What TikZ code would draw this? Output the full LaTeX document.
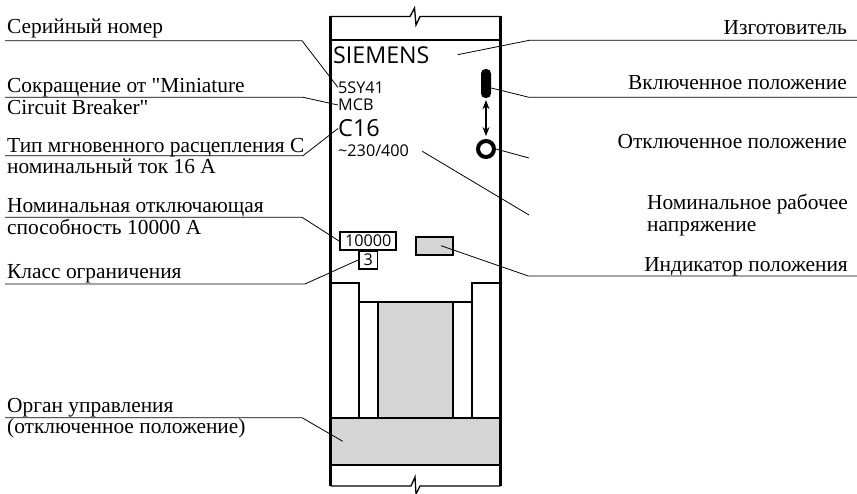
\documentclass[tikz,border=0pt]{standalone}
\usepackage{fontspec}
\newfontfamily\capfont{Liberation Serif}
\newfontfamily\platefont{Open Sans}
\usepackage{tikz}
\usetikzlibrary{arrows.meta,positioning}
\usepackage{xcolor}
\definecolor{bkgray}{RGB}{213,213,213}
\tikzstyle{wall} = [line width=2.1pt, color=black]
\tikzstyle{edge} = [line width=1.3pt, color=black]
\tikzstyle{leader} = [line width=0.8pt, color=black]
\tikzstyle{caption} = [anchor=base west, inner sep=0pt, font=\capfont\fontsize{21.4}{24}\selectfont]
\tikzstyle{captionr} = [anchor=base east, inner sep=0pt, font=\capfont\fontsize{21.4}{24}\selectfont]
\tikzstyle{plate} = [anchor=west, inner sep=0pt, font=\platefont\fontsize{16.2}{18}\selectfont]
\tikzstyle{platebig} = [anchor=west, inner sep=0pt, font=\platefont\fontsize{23.5}{26}\selectfont]
\tikzstyle{platebox} = [rectangle, draw=black, fill=white, line width=1.8pt, inner sep=0pt, font=\platefont\fontsize{16.2}{18}\selectfont]

\begin{document}
\begin{tikzpicture}[x=1pt, y=-1pt]
\useasboundingbox (0,0) rectangle (857,494);

% Grey parts
\fill[bkgray] (377.7,302) rectangle (453,418);
\fill[bkgray] (330.5,418) rectangle (500.5,465);

% Housing
\draw[wall] (330.5,16.5) -- (330.5,486);
\draw[wall] (500.5,16.5) -- (500.5,486);
\draw[wall] (330.5,40) -- (500.5,40);
\draw[wall] (330.5,418) -- (500.5,418);
\draw[wall] (330.5,465) -- (500.5,465);

% Break marks
\draw[edge] (330.5,16.5) -- (410,16.5) -- (414.5,8) -- (416,25) -- (420,16.5) -- (500.5,16.5);
\draw[edge] (330.5,486) -- (411,486) -- (415,477) -- (416,494) -- (420,486) -- (500.5,486);

% Handle
\draw[wall] (330.5,283) -- (359,283) -- (359,418);
\draw[wall] (500.5,283) -- (472,283) -- (472,418);
\draw[wall] (359,302) -- (472,302);
\draw[wall] (377.7,302) -- (377.7,418);
\draw[wall] (453,302) -- (453,418);

% Plate labels
\node[plate, font=\platefont\fontsize{23.2}{26}\selectfont] (maker) at (333,55) {SIEMENS};
\node[plate] (serial) at (338,87.5) {5SY41};
\node[plate] (mcb) at (338,105) {MCB};
\node[platebig] (rating) at (338,128.5) {C16};
\node[plate] (voltage) at (338,151) {\textasciitilde230/400};

% Boxes
\node[platebox, minimum width=56pt, minimum height=18pt] (capacity) at (368.3,241.2) {10000};
\node[platebox, minimum width=18.5pt, minimum height=18pt] (limit) at (368.3,260) {3};
\node[rectangle, draw=black, fill=bkgray, line width=1.8pt, minimum width=37.5pt, minimum height=18.5pt] (indicator) at (434.5,246) {};

% Switch positions
\node[rectangle, rounded corners=4.5pt, fill=black, minimum width=10pt, minimum height=29pt, inner sep=0pt] (on) at (486,83.5) {};
\node[circle, draw=black, line width=4pt, minimum size=16pt, inner sep=0pt] (off) at (486,149) {};
\draw[line width=1.3pt, {Stealth[length=9pt,width=7pt]}-{Stealth[length=9pt,width=7pt]}, shorten <=2pt, shorten >=3pt] (on) -- (off);

% Left captions
\node[caption] (tserial) at (7,34) {Серийный номер};
\node[caption] (tmcb) at (7,93) {Сокращение от "Miniature};
\node[caption] (tmcbb) at (7,115) {Circuit Breaker"};
\node[caption] (trating) at (7,152.7) {Тип мгновенного расцепления С};
\node[caption] (tratingb) at (7,173.7) {номинальный ток 16 А};
\node[caption] (tcapacity) at (7,212.7) {Номинальная отключающая};
\node[caption] (tcapacityb) at (7,235) {способность 10000 А};
\node[caption] (tlimit) at (7,278.7) {Класс ограничения};
\node[caption] (thandle) at (7,412.7) {Орган управления};
\node[caption] (thandleb) at (7,433) {(отключенное положение)};

% Right captions
\node[captionr] (tmaker) at (847,35) {Изготовитель};
\node[captionr] (ton) at (847,90) {Включенное положение};
\node[captionr] (toff) at (847,148.7) {Отключенное положение};
\node[caption] (tvoltage) at (647,210) {Номинальное рабочее};
\node[caption] (tvoltageb) at (647,232) {напряжение};
\node[captionr] (tindicator) at (848,272) {Индикатор положения};

% Leader ends
\coordinate (a1) at (5,40.7);
\coordinate (a2) at (302,40.7);
\coordinate (b1) at (5,97.3);
\coordinate (b2) at (303,97.3);
\coordinate (c1) at (5,155.7);
\coordinate (c2) at (303,155.7);
\coordinate (d1) at (5,217.3);
\coordinate (d2) at (302,217.3);
\coordinate (e1) at (5,284);
\coordinate (e2) at (305,284);
\coordinate (f1) at (5,417.7);
\coordinate (f2) at (302,417.7);
\coordinate (f3) at (342.7,441.3);
\coordinate (g1) at (457.7,54.7);
\coordinate (g2) at (529.3,40.3);
\coordinate (g3) at (857,40.3);
\coordinate (h2) at (529,97.3);
\coordinate (h3) at (857,97.3);
\coordinate (i2) at (529,158);
\coordinate (j1) at (422.3,151.3);
\coordinate (j2) at (529,215);
\coordinate (k1) at (441,245.7);
\coordinate (k2) at (528.3,276);
\coordinate (k3) at (857,276);

% Leaders
\draw[leader] (a1) -- (a2) -- (serial.west);
\draw[leader] (b1) -- (b2) -- (mcb.west);
\draw[leader] (c1) -- (c2) -- (rating.west);
\draw[leader] (d1) -- (d2) -- (capacity.west);
\draw[leader] (e1) -- (e2) -- (limit.west);
\draw[leader] (f1) -- (f2) -- (f3);
\draw[leader] (g1) -- (g2) -- (g3);
\draw[leader] ([yshift=-4.5pt]on.east) -- (h2) -- (h3);
\draw[leader] (off.east) -- (i2);
\draw[leader] (j1) -- (j2);
\draw[leader] (k1) -- (k2) -- (k3);
\end{tikzpicture}
\end{document}
